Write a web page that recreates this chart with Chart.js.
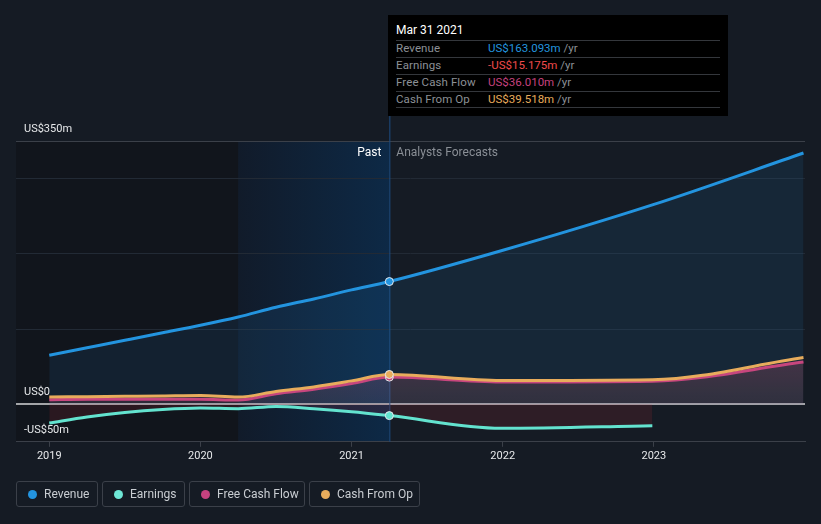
<!DOCTYPE html>
<html>
<head>
<meta charset="utf-8">
<script src="https://cdn.jsdelivr.net/npm/chart.js@4.4.1/dist/chart.umd.min.js"></script>
<style>
  html, body { margin:0; padding:0; background:#151b24; }
  body { width:821px; height:524px; position:relative; overflow:hidden; font-family: Roboto, "Noto Sans", sans-serif; }
  #wrap { position:absolute; left:0; top:0; width:821px; height:524px; }
  #tip { position:absolute; left:388px; top:15px; width:340px; height:101px; background:#000; color:#8c9096; font-size:11.5px; }
  #tip .title { position:absolute; left:8px; top:8px; color:#fff; font-size:12px; }
  #tip .sep { position:absolute; left:8px; width:324px; height:1px; background:#34373c; }
  #tip .lab { position:absolute; left:8px; color:#8c9096; letter-spacing:0.1px; }
  #tip .val { position:absolute; left:100px; }
  #tip .val span { color:#8c9096; }
  .leg { position:absolute; top:481px; height:26px; border:1px solid #3b4049; border-radius:3px; box-sizing:border-box; color:#c9cdd2; font-size:12px; line-height:24px; }
  .leg i { position:absolute; left:11px; top:8px; width:9px; height:9px; border-radius:50%; }
  .leg b { font-weight:normal; position:absolute; left:27px; top:0; white-space:nowrap; }
</style>
</head>
<body>
<div id="wrap"><canvas id="c" width="821" height="524"></canvas></div>
<div id="tip">
  <div class="title">Mar 31 2021</div>
  <div class="sep" style="top:25px"></div>
  <div class="lab" style="top:26px">Revenue</div><div class="val" style="top:26px;color:#2394df">US$163.093m <span>/yr</span></div>
  <div class="sep" style="top:42px"></div>
  <div class="lab" style="top:43px">Earnings</div><div class="val" style="top:43px;color:#ef4b4b">-US$15.175m <span>/yr</span></div>
  <div class="sep" style="top:59px"></div>
  <div class="lab" style="top:60px">Free Cash Flow</div><div class="val" style="top:60px;color:#c6427f">US$36.010m <span>/yr</span></div>
  <div class="sep" style="top:76px"></div>
  <div class="lab" style="top:77px">Cash From Op</div><div class="val" style="top:77px;color:#e8ac5c">US$39.518m <span>/yr</span></div>
  <div class="sep" style="top:92px"></div>
</div>
<div class="leg" style="left:16px;width:82px"><i style="background:#2394df"></i><b>Revenue</b></div>
<div class="leg" style="left:102px;width:83px"><i style="background:#6ee7d6"></i><b>Earnings</b></div>
<div class="leg" style="left:189px;width:116px"><i style="background:#c6427f"></i><b>Free Cash Flow</b></div>
<div class="leg" style="left:309px;width:111px"><i style="background:#e8ac5c"></i><b>Cash From Op</b></div>
<script>
// ---- data (decimal years) ----
const dates      = [2019.0, 2019.25, 2019.5, 2019.75, 2020.0, 2020.25, 2020.5, 2020.75, 2021.0, 2021.25, 2021.99, 2022.99, 2023.99];
const revenue    = [65, 75, 85, 95, 105, 116, 129, 140, 152, 163.093, 204, 265, 334];
const earnings   = [-25, -17, -11, -7, -5, -6, -3, -6, -10, -15.175, -32, -28.5];
const freeCash   = [6, 6.5, 6.5, 6.5, 6.5, 5.5, 14, 20, 27.5, 36.01, 29.5, 30.5, 56];
const cashFromOp = [9.5, 10, 10.5, 11, 11.5, 9.5, 17, 23, 31, 39.518, 31.5, 32.5, 62];
const xTicks = [2019, 2020, 2021, 2022, 2023];
const yTicks = [-50, 0, 100, 200, 300, 350];
const yLabels = { '-50': '-US$50m', '0': 'US$0', '350': 'US$350m' };
const pastStart = 2020.25, nowX = 2021.25;

const pts = arr => arr.map((v, i) => ({ x: dates[i], y: v }));
const ptRadius = ctx => (ctx.raw && ctx.raw.x === nowX) ? 4 : 0;

const bgPlugin = {
  id: 'bg',
  beforeDraw(chart) {
    const { ctx, chartArea: a, scales: { x } } = chart;
    ctx.save();
    const xs = x.getPixelForValue(pastStart), xn = x.getPixelForValue(nowX);
    ctx.fillStyle = '#11151c';
    ctx.fillRect(a.left, a.top, xs - a.left, a.bottom - a.top);
    const g = ctx.createLinearGradient(xs, 0, xn, 0);
    g.addColorStop(0, '#111b2a');
    g.addColorStop(1, '#0d2946');
    ctx.fillStyle = g;
    ctx.fillRect(xs, a.top, xn - xs, a.bottom - a.top);
    ctx.restore();
  },
  beforeDatasetsDraw(chart) {
    const { ctx, chartArea: a, scales: { x } } = chart;
    const xn = x.getPixelForValue(nowX);
    ctx.save();
    ctx.strokeStyle = '#1d4c82';
    ctx.lineWidth = 1;
    ctx.beginPath(); ctx.moveTo(xn + 0.5, 116); ctx.lineTo(xn + 0.5, a.bottom); ctx.stroke();
    ctx.font = '12px Roboto';
    ctx.textBaseline = 'middle';
    ctx.textAlign = 'right';
    ctx.fillStyle = '#ffffff';
    ctx.fillText('Past', xn - 8, a.top + 12);
    ctx.textAlign = 'left';
    ctx.fillStyle = '#8a8f96';
    ctx.fillText('Analysts Forecasts', xn + 7, a.top + 12);
    ctx.restore();
  }
};

function pinkFill(ctx) {
  const ch = ctx.chart, a = ch.chartArea;
  if (!a) return 'rgba(198,66,127,0.15)';
  const y = ch.scales.y;
  const g = ch.ctx.createLinearGradient(0, y.getPixelForValue(60), 0, y.getPixelForValue(0));
  g.addColorStop(0, 'rgba(200,80,120,0.22)');
  g.addColorStop(1, 'rgba(200,80,120,0.10)');
  return g;
}

new Chart(document.getElementById('c'), {
  type: 'line',
  data: {
    datasets: [
      { label: 'Cash From Op', data: pts(cashFromOp), borderColor: '#e8ac5c', backgroundColor: 'rgba(232,172,92,0.04)', fill: 'origin', borderWidth: 3, pointRadius: ptRadius, pointBackgroundColor: '#e8ac5c', pointBorderColor: '#e6e9ee', pointBorderWidth: 1, cubicInterpolationMode: 'monotone', order: 1 },
      { label: 'Free Cash Flow', data: pts(freeCash), borderColor: '#c6427f', backgroundColor: pinkFill, fill: 'origin', borderWidth: 3, pointRadius: ptRadius, pointBackgroundColor: '#c6427f', pointBorderColor: '#e6e9ee', pointBorderWidth: 1, cubicInterpolationMode: 'monotone', order: 2 },
      { label: 'Earnings', data: pts(earnings), borderColor: '#63e3cf', backgroundColor: 'rgba(200,45,60,0.14)', fill: 'origin', borderWidth: 3, pointRadius: ptRadius, pointBackgroundColor: '#63e3cf', pointBorderColor: '#e6e9ee', pointBorderWidth: 1, cubicInterpolationMode: 'monotone', order: 3 },
      { label: 'Revenue', data: pts(revenue), borderColor: '#2394df', backgroundColor: 'rgba(35,148,223,0.10)', fill: 'origin', borderWidth: 3, pointRadius: ptRadius, pointBackgroundColor: '#2394df', pointBorderColor: '#e6e9ee', pointBorderWidth: 1, cubicInterpolationMode: 'monotone', order: 4 }
    ]
  },
  options: {
    responsive: false,
    animation: false,
    events: [],
    layout: { padding: { left: 0, right: 16, top: 141, bottom: 58 } },
    plugins: { legend: { display: false }, tooltip: { enabled: false } },
    scales: {
      x: {
        type: 'linear', min: 2018.78, max: 2024.0,
        afterBuildTicks: s => { s.ticks = xTicks.map(v => ({ value: v })); },
        grid: { drawOnChartArea: false, drawTicks: true, tickLength: 5, tickColor: '#3b4049' },
        border: { display: true, color: '#3b4049', width: 1 },
        ticks: { color: '#e6e8ea', font: { family: 'Roboto', size: 11 }, padding: 3, maxRotation: 0, callback: v => String(v) }
      },
      y: {
        min: -50, max: 350,
        afterBuildTicks: s => { s.ticks = yTicks.map(v => ({ value: v })); },
        grid: {
          drawTicks: false,
          color: c => c.tick.value === 0 ? '#a3a5a8' : (c.tick.value === 350 || c.tick.value === -50 ? '#3b4049' : '#222a35'),
          lineWidth: c => c.tick.value === 0 ? 2 : 1
        },
        border: { display: false },
        ticks: { mirror: true, padding: 8, labelOffset: -12, color: '#e6e8ea', font: { family: 'Roboto', size: 11 }, callback: v => yLabels[String(v)] || '' }
      }
    }
  },
  plugins: [bgPlugin]
});
</script>
</body>
</html>
